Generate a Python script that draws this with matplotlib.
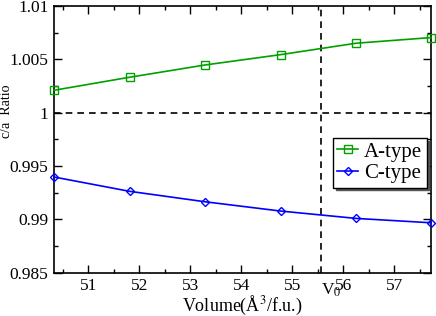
import matplotlib
matplotlib.use("Agg")
import matplotlib.pyplot as plt
from matplotlib.ticker import MultipleLocator, FuncFormatter

volume = [50.33, 51.81, 53.29, 54.77, 56.25, 57.72]
a_type = [1.0021, 1.00332, 1.00447, 1.00544, 1.00651, 1.00704]
c_type = [0.99397, 0.99263, 0.99165, 0.99078, 0.99009, 0.98968]
v0 = 55.57
x_ticks = [51, 52, 53, 54, 55, 56, 57]
y_ticks = [0.985, 0.99, 0.995, 1.0, 1.005, 1.01]

plt.rcParams['font.family'] = ['Liberation Serif', 'DejaVu Serif']
plt.rcParams['mathtext.fontset'] = 'stix'

fig = plt.figure(figsize=(4.36, 3.16), dpi=100)
ax = fig.add_axes([54/436, 43.3/316, 377/436, 266.7/316])

ax.plot(volume, a_type, color='#00a000', lw=1.2, marker='s', ms=5.5,
        mfc='none', mec='#00a000', mew=1.0, label='A-type', clip_on=False, zorder=3)
ax.plot(volume, c_type, color='#0000ff', lw=1.2, marker='D', ms=4.5,
        mfc='none', mec='#0000ff', mew=1.0, label='C-type', clip_on=False, zorder=3)

ax.axhline(1.0, color='black', lw=1.2, ls=(0, (4, 3)))
ax.axvline(v0, color='black', lw=1.2, ls=(0, (4, 3)))

ax.set_xlim(50.33, 57.72)
ax.set_ylim(0.985, 1.01)
ax.set_xticks(x_ticks)
ax.set_yticks(y_ticks)
ax.xaxis.set_minor_locator(MultipleLocator(0.5))
ax.yaxis.set_minor_locator(MultipleLocator(0.0025))
ax.yaxis.set_major_formatter(FuncFormatter(lambda v, p: '%g' % round(v, 4)))
ax.tick_params(which='both', direction='in', top=True, right=True, labelsize=12.5, pad=4)
ax.tick_params(which='major', length=6, width=1.0)
ax.tick_params(which='minor', length=3, width=1.0)
for s in ax.spines.values():
    s.set_linewidth(1.2)

ax.text(v0, -0.035, 'V$_0$', transform=ax.get_xaxis_transform(), ha='left', va='top', fontsize=12.5)

ax.set_xlabel('Volume($\\mathregular{\\AA}^{3}$/f.u.)', fontsize=13, labelpad=0)
fig.text(7/436, 1 - 111/316, 'c/a  Ratio', rotation=90, ha='center', va='center', fontsize=10)

leg = ax.legend(loc='upper left', bbox_to_anchor=((333-54)/377, (272.7-138)/266.7),
                fontsize=15, frameon=True, fancybox=False, edgecolor='black',
                handlelength=1.0, handletextpad=0.3, borderpad=0.2, labelspacing=0.1,
                borderaxespad=0, shadow={'color': '#555555', 'alpha': 1})
leg.get_frame().set_linewidth(1.0)

fig.savefig('out.png', dpi=100)
